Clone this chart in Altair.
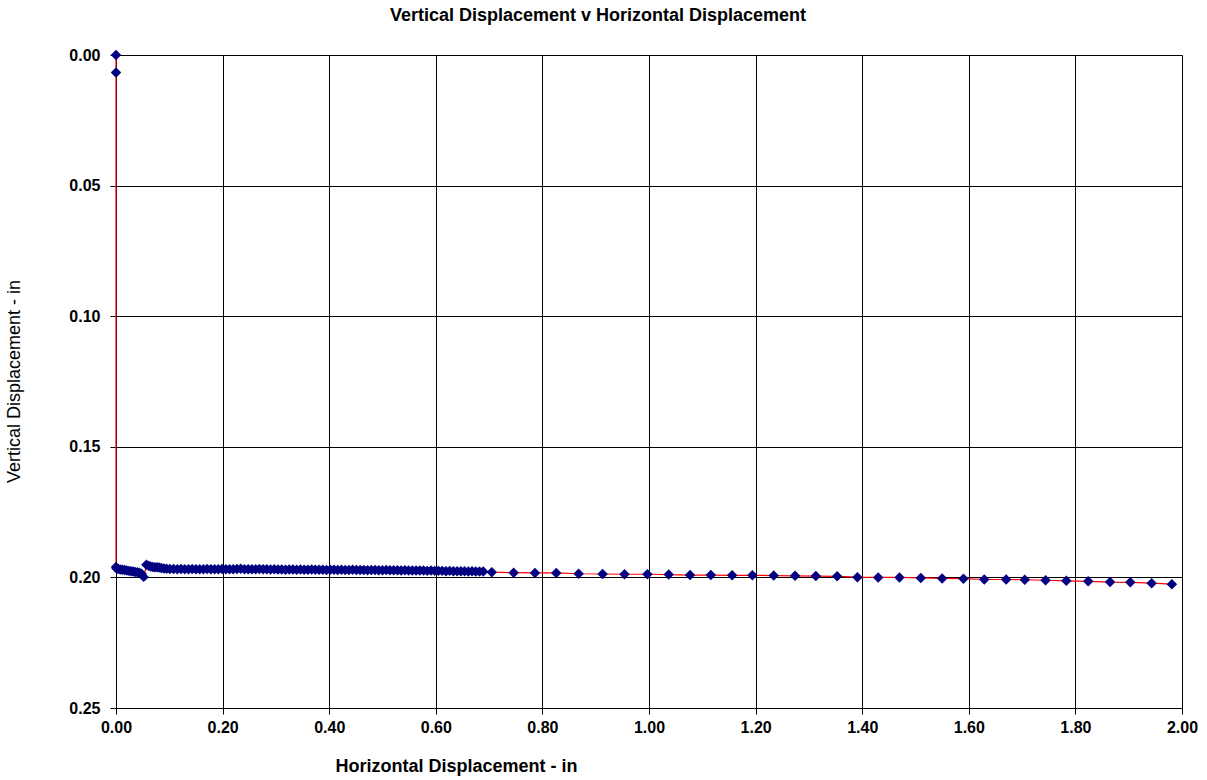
import altair as alt
import pandas as pd

# Horizontal displacement (in)
h_disp = [
    0.000, 0.000, 0.000, 0.001, 0.004, 0.008, 0.012, 0.016, 0.020, 0.024,
    0.028, 0.032, 0.036, 0.040, 0.044, 0.048, 0.052, 0.057, 0.061, 0.065,
    0.069, 0.073, 0.077, 0.081, 0.085, 0.090,
    0.095, 0.101, 0.108, 0.115, 0.122, 0.129, 0.136, 0.143, 0.150, 0.157,
    0.164, 0.171, 0.178, 0.185, 0.192, 0.199, 0.206, 0.213, 0.220, 0.227,
    0.234, 0.241, 0.248, 0.255, 0.262, 0.269, 0.276, 0.283, 0.290, 0.297,
    0.304, 0.311, 0.318, 0.325, 0.332, 0.339, 0.346, 0.353, 0.360, 0.367,
    0.374, 0.381, 0.388, 0.395, 0.402, 0.409, 0.416, 0.423, 0.430, 0.437,
    0.444, 0.451, 0.458, 0.465, 0.472, 0.479, 0.486, 0.493, 0.500, 0.507,
    0.514, 0.521, 0.528, 0.535, 0.542, 0.549, 0.556, 0.563, 0.570, 0.577,
    0.584, 0.591, 0.598, 0.605, 0.612, 0.619, 0.626, 0.633, 0.640, 0.647,
    0.654, 0.661, 0.668, 0.675, 0.682, 0.689,
    0.705, 0.746, 0.786, 0.826, 0.868, 0.913, 0.954, 0.997, 1.037, 1.077,
    1.116, 1.156, 1.194, 1.234, 1.274, 1.313, 1.353, 1.391, 1.430, 1.470,
    1.510, 1.550, 1.590, 1.629, 1.670, 1.705, 1.744, 1.783, 1.824, 1.865,
    1.903, 1.943, 1.981,
]

# Vertical displacement (in)
v_disp = [
    0.0000, 0.0067, 0.1960, 0.1966, 0.1968, 0.1970, 0.1971, 0.1972, 0.1974, 0.1975,
    0.1976, 0.1977, 0.1979, 0.1980, 0.1982, 0.1986, 0.1998, 0.1952, 0.1955, 0.1958,
    0.1960, 0.1961, 0.1961, 0.1962, 0.1964, 0.1966,
    0.1967, 0.1968, 0.1968, 0.1969, 0.1968, 0.1969, 0.1969, 0.1968, 0.1969, 0.1969,
    0.1969, 0.1968, 0.1969, 0.1969, 0.1969, 0.1968, 0.1969, 0.1969, 0.1969, 0.1968,
    0.1967, 0.1969, 0.1969, 0.1969, 0.1969, 0.1968, 0.1969, 0.1969, 0.1970, 0.1969,
    0.1970, 0.1970, 0.1971, 0.1970, 0.1970, 0.1971, 0.1970, 0.1971, 0.1971, 0.1970,
    0.1971, 0.1971, 0.1971, 0.1972, 0.1971, 0.1971, 0.1972, 0.1971, 0.1972, 0.1972,
    0.1971, 0.1972, 0.1972, 0.1972, 0.1973, 0.1972, 0.1972, 0.1973, 0.1973, 0.1972,
    0.1973, 0.1973, 0.1973, 0.1974, 0.1973, 0.1974, 0.1974, 0.1974, 0.1974, 0.1974,
    0.1975, 0.1974, 0.1975, 0.1975, 0.1975, 0.1976, 0.1975, 0.1976, 0.1976, 0.1976,
    0.1976, 0.1977, 0.1976, 0.1977, 0.1977, 0.1977,
    0.1980, 0.1982, 0.1983, 0.1983, 0.1986, 0.1987, 0.1988, 0.1988, 0.1989, 0.1991,
    0.1991, 0.1992, 0.1992, 0.1993, 0.1994, 0.1995, 0.1996, 0.1999, 0.2000, 0.2000,
    0.2002, 0.2004, 0.2005, 0.2008, 0.2008, 0.2009, 0.2011, 0.2013, 0.2015, 0.2018,
    0.2019, 0.2022, 0.2026,
]

x_ticks = [0.0, 0.2, 0.4, 0.6, 0.8, 1.0, 1.2, 1.4, 1.6, 1.8, 2.0]
y_ticks = [0.0, 0.05, 0.10, 0.15, 0.20, 0.25]

df = pd.DataFrame({"h": h_disp, "v": v_disp, "order": list(range(len(h_disp)))})

FONT = "Liberation Sans"

x_enc = alt.X(
    "h:Q",
    scale=alt.Scale(domain=[0, 2.0], nice=False, zero=False),
    axis=alt.Axis(
        values=x_ticks, format=".2f", title="Horizontal Displacement - in",
        grid=True, gridColor="#000000", gridWidth=1, gridOpacity=1,
        domainColor="#000000", tickColor="#000000", tickSize=6,
        labelFont=FONT, labelFontSize=16, labelFontWeight="bold", labelColor="#000000",
        labelPadding=5, labelFlush=False, labelOverlap=False,
        titleFont=FONT, titleFontSize=18, titleFontWeight="bold", titleColor="#000000",
        titleX=340, titleY=58, titleAnchor="middle", titleAlign="center", titleBaseline="middle",
    ),
)
y_enc = alt.Y(
    "v:Q",
    scale=alt.Scale(domain=[0, 0.25], nice=False, zero=False, reverse=True),
    axis=alt.Axis(
        values=y_ticks, format=".2f", title="Vertical Displacement  - in",
        grid=True, gridColor="#000000", gridWidth=1, gridOpacity=1,
        domainColor="#000000", tickColor="#000000", tickSize=6,
        labelFont=FONT, labelFontSize=16, labelFontWeight="bold", labelColor="#000000",
        labelPadding=10, labelFlush=False, labelOverlap=False,
        titleFont=FONT, titleFontSize=18, titleFontWeight="normal", titleColor="#000000",
        titleX=-102, titleY=326, titleAngle=270, titleAlign="center", titleBaseline="middle",
    ),
)

line = alt.Chart(df).mark_line(color="#FF0000", strokeWidth=1.2).encode(
    x=x_enc, y=y_enc, order="order:Q"
)
points = alt.Chart(df).mark_point(
    shape="diamond", filled=True, color="#000080", size=110, opacity=1
).encode(x="h:Q", y="v:Q")

chart = (
    alt.layer(line, points)
    .properties(
        width=1066,
        height=653,
        autosize=alt.AutoSizeParams(type="none"),
        padding={"left": 116, "top": 55, "right": 25, "bottom": 72},
        title=alt.TitleParams(
            "Vertical Displacement v Horizontal Displacement",
            font=FONT, fontSize=18, fontWeight="bold", color="#000000",
            anchor="middle", dx=-51, offset=13, baseline="middle",
        ),
    )
    .configure_view(stroke="#000000", strokeWidth=1)
    .configure(background="#FFFFFF")
)

chart.save("out.html", embed_options={"renderer": "svg", "actions": False})
